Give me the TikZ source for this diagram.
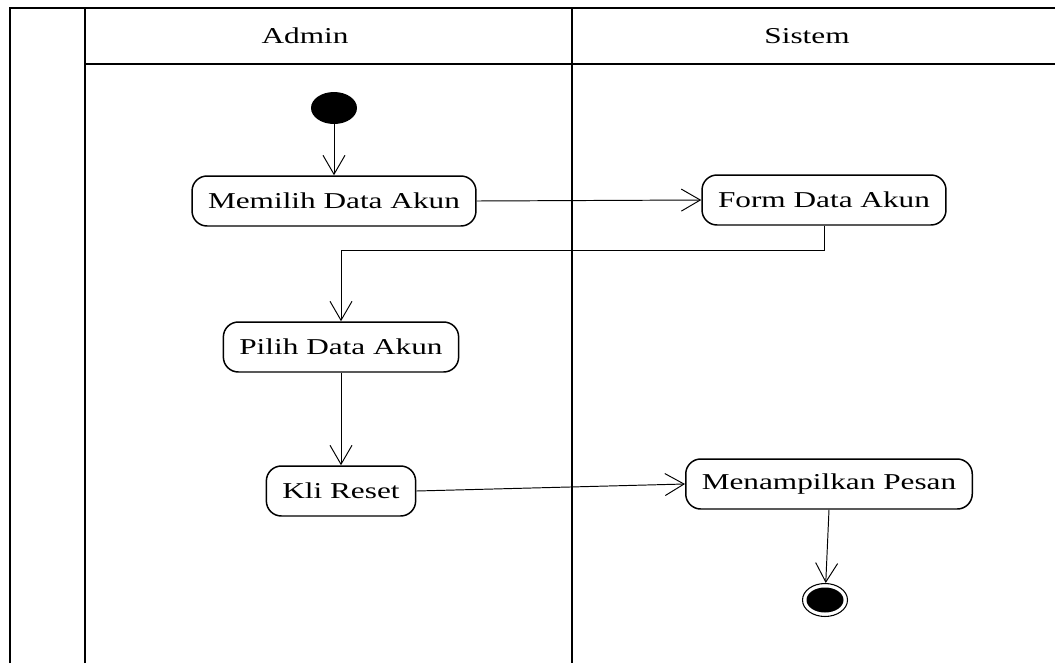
\documentclass[tikz,border=0pt]{standalone}
\usepackage{fontspec}
\newfontfamily\lanefont[FakeStretch=1.38]{Liberation Serif}
\usepackage{tikz}
\usetikzlibrary{arrows.meta, shapes.geometric}
\tikzset{
    act/.style={draw, rounded corners=0.3cm, line width=0.85pt, minimum height=1cm, inner xsep=0.32cm}, % activity box
    startnode/.style={ellipse, fill, inner sep=0pt, minimum width=0.92cm, minimum height=0.64cm}, % start
    endnode/.style={ellipse, draw, line width=0.6pt, inner sep=0pt, minimum width=0.9cm, minimum height=0.66cm,
        path picture={\fill (path picture bounding box.center) ellipse (0.37cm and 0.25cm);}}, % end
    flow/.style={line width=0.55pt, -{Straight Barb[length=3.8mm, width=4.4mm]}}, % transition
    lane/.style={line width=1.15pt} % swimlane frame
}

\begin{document}
\begin{tikzpicture}[x=0.02cm, y=-0.02cm, font=\lanefont\fontsize{12.9}{15}\selectfont]
    \useasboundingbox (0,0) rectangle (1055,663);

    % swimlanes
    \draw[lane] (10,663) -- (10,8) -- (1055,8);
    \draw[lane] (85,663) -- (85,8);
    \draw[lane] (85,64) -- (1055,64);
    \draw[lane] (572,8) -- (572,663);
    \node (admin) at (305,36) {Admin};
    \node (sistem) at (807,36) {Sistem};

    % activities
    \node[startnode] (start) at (334,108) {};
    \node[act] (memilih) at (334,201) {Memilih Data Akun};
    \node[act] (form) at (824,200) {Form Data Akun};
    \node[act] (pilih) at (341,347) {Pilih Data Akun};
    \node[act] (reset) at (341,491) {Kli Reset};
    \node[act] (pesan) at (829,484) {Menampilkan Pesan};
    \node[endnode] (end) at (825,600) {};
    \coordinate (bend) at (341,250);

    \draw[flow] (start) -- (memilih);
    \draw[flow] (memilih.east) -- (form.west);
    \draw[flow] (form.south) |- (bend) -- (pilih.north);
    \draw[flow] (pilih) -- (reset);
    \draw[flow] (reset.east) -- (pesan.west);
    \draw[flow] (pesan.south) -- (end);
\end{tikzpicture}
\end{document}
